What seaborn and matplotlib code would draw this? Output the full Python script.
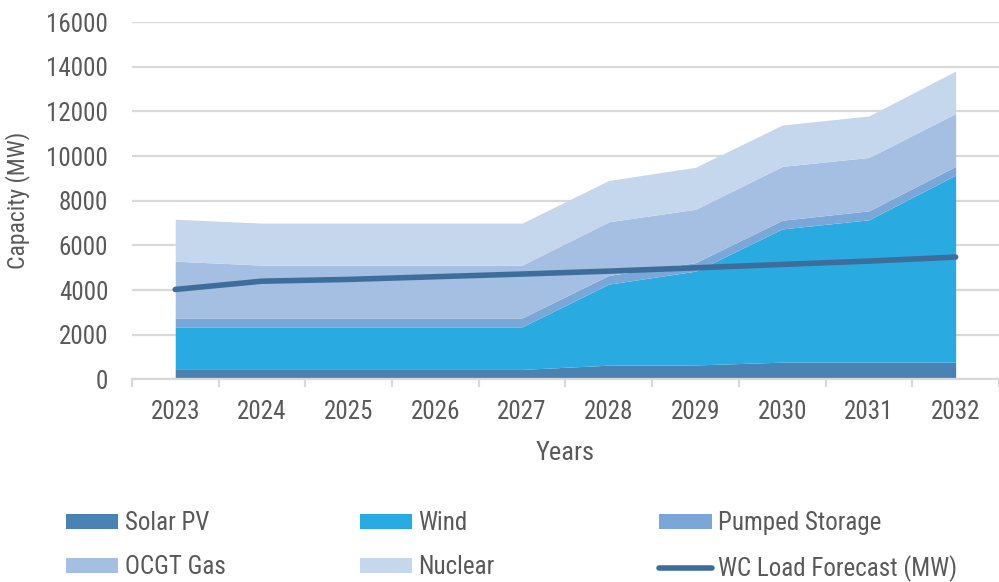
import matplotlib
matplotlib.use("Agg")
import matplotlib.pyplot as plt
from matplotlib.patches import Patch
from matplotlib.lines import Line2D
import numpy as np
import pandas as pd
import seaborn as sns

# Installed capacity by technology (MW) and the load forecast
years = [2023, 2024, 2025, 2026, 2027, 2028, 2029, 2030, 2031, 2032]
solar_pv = [450, 450, 450, 450, 450, 640, 650, 775, 775, 775]
wind = [1905, 1905, 1905, 1905, 1905, 3630, 4200, 5965, 6375, 8375]
pumped_storage = [400, 400, 400, 400, 400, 390, 380, 390, 400, 390]
ocgt_gas = [2540, 2365, 2365, 2365, 2365, 2400, 2390, 2410, 2390, 2370]
nuclear = [1880, 1880, 1880, 1880, 1880, 1850, 1880, 1850, 1860, 1900]
load_forecast = [4030, 4400, 4480, 4600, 4720, 4850, 5000, 5150, 5300, 5480]

series_names = ["Solar PV", "Wind", "Pumped Storage", "OCGT Gas", "Nuclear"]
series_colors = ["#4a82b4", "#29abe2", "#7aa7d8", "#a4bfe2", "#c5d7ec"]
line_color = "#3d6e9b"
text_color = "#595959"
grid_color = "#d9d9d9"

sns.set_theme(style="white")
plt.rcParams["font.family"] = ["Liberation Sans Narrow", "Roboto Condensed",
                               "Archivo Narrow", "DejaVu Sans"]
plt.rcParams["text.color"] = text_color

fig = plt.figure(figsize=(9.99, 5.82), dpi=100)
ax = fig.add_axes([0.132, 0.348, 0.868, 0.614])

x = np.arange(len(years))
ax.stackplot(x, solar_pv, wind, pumped_storage, ocgt_gas, nuclear,
             colors=series_colors, linewidth=0, zorder=2)

load_df = pd.DataFrame({"pos": x, "load": load_forecast})
sns.lineplot(data=load_df, x="pos", y="load", ax=ax, color=line_color,
             linewidth=4.0, solid_capstyle="round", zorder=3, legend=False)

ax.set_ylim(0, 16000)
ax.set_xlim(-0.5, 9.44)
ax.set_yticks(np.arange(0, 16001, 2000))
ax.set_yticklabels([f"{v}" for v in range(0, 16001, 2000)])
ax.set_xticks(x)
ax.set_xticklabels([str(y) for y in years])
ax.set_xticks(np.arange(-0.5, 10, 1.0), minor=True)
ax.yaxis.grid(True, color=grid_color, linewidth=1.6, zorder=0)
ax.set_axisbelow(True)

for side in ["left", "right", "top"]:
    ax.spines[side].set_visible(False)
ax.spines["bottom"].set_color(grid_color)
ax.spines["bottom"].set_linewidth(1.6)

ax.tick_params(axis="y", length=0, pad=17, labelsize=18, labelcolor=text_color)
ax.tick_params(axis="x", which="major", length=0, pad=15, labelsize=18, labelcolor=text_color)
ax.tick_params(axis="x", which="minor", length=6, width=1.6, color=grid_color, bottom=True)

ax.set_xlabel("Years", fontsize=19, color=text_color, labelpad=12)
ax.set_ylabel("Capacity (MW)", fontsize=17, color=text_color, labelpad=12)

# Legend laid out as three columns of two entries
handles = [Patch(facecolor=c, edgecolor="none") for c in series_colors]
handles.append(Line2D([0], [0], color=line_color, linewidth=4.0, solid_capstyle="round"))
labels = series_names + ["WC Load Forecast (MW)"]
columns = [(0, 3), (1, 4), (2, 5)]
col_x = [0.066, 0.360, 0.660]
for (i, j), cx in zip(columns, col_x):
    leg = fig.legend([handles[i], handles[j]], [labels[i], labels[j]],
                     loc="upper left", bbox_to_anchor=(cx, 0.122), frameon=False,
                     fontsize=18, handlelength=2.1, handleheight=0.55,
                     handletextpad=0.25, labelspacing=0.8, borderpad=0,
                     borderaxespad=0)
    for t in leg.get_texts():
        t.set_color(text_color)

fig.savefig("out.png", dpi=100)
